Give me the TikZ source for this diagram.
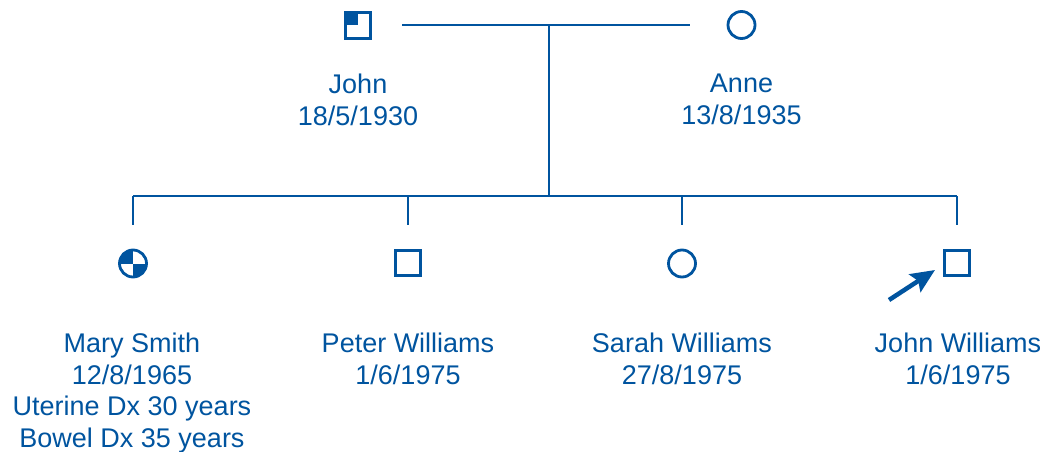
\documentclass[tikz,border=0pt]{standalone}
\usepackage{fontspec}
\setmainfont{Liberation Sans}
\usetikzlibrary{arrows.meta}
\definecolor{ped}{RGB}{0,84,159}
\begin{document}
\begin{tikzpicture}[x=1pt,y=-1pt,
  line width=2.5pt, draw=ped,
  male/.style={draw=ped, rectangle, minimum size=25.5pt, inner sep=0pt, line width=2.8pt},
  female/.style={draw=ped, circle, minimum size=27pt, inner sep=0pt, line width=2.8pt},
  lbl/.style={align=center, anchor=north, inner sep=0pt, text=ped,
    font=\fontsize{27}{31.7}\selectfont},
  conn/.style={draw=ped, line width=2.5pt},
  proband/.style={draw=ped, line width=4.5pt, -{Stealth[length=24pt,width=21pt,inset=4pt]}}]
\useasboundingbox (0,0) rectangle (1046,452);
% parents
\node[male] (john) at (358,25.5) {};
\node[female] (anne) at (741.5,25) {};
\fill[ped] (john.north west) rectangle (john.center);
% children
\node[female] (mary) at (133,263.5) {};
\node[male] (peter) at (408,263) {};
\node[female] (sarah) at (682,263.5) {};
\node[male] (jw) at (957,263) {};
\begin{scope}
  \clip (mary.center) circle[radius=13.5];
  \fill[ped] (mary.center) rectangle ++(-20,-20);
  \fill[ped] (mary.center) rectangle ++(20,20);
\end{scope}
% connectors
\coordinate (m1) at (402,25);
\coordinate (m2) at (690,25);
\coordinate (mid) at (549,25);
\coordinate (sib) at (549,196);
\coordinate (s1) at (133,196);
\coordinate (s2) at (408,196);
\coordinate (s3) at (682,196);
\coordinate (s4) at (957,196);
\coordinate (d1) at (133,225);
\coordinate (d2) at (408,225);
\coordinate (d3) at (682,225);
\coordinate (d4) at (957,225);
\draw[conn] (m1) -- (m2);
\draw[conn] (mid) -- (sib);
\draw[conn] (s1) -- (s4);
\draw[conn] (s1) -- (d1);
\draw[conn] (s2) -- (d2);
\draw[conn] (s3) -- (d3);
\draw[conn] (s4) -- (d4);
\coordinate (a1) at (889,300);
\coordinate (a2) at (935,270);
\draw[proband] (a1) -- (a2);
% labels
\node[lbl] (johnl) at (358,72.5) {John\\18/5/1930};
\node[lbl] (annel) at (741.5,72.5) {Anne\\13/8/1935};
\node[lbl] (maryl) at (132,331.5) {Mary Smith\\12/8/1965\\Uterine Dx 30 years\\Bowel Dx 35 years};
\node[lbl] (peterl) at (408,331.5) {Peter Williams\\1/6/1975};
\node[lbl] (sarahl) at (682,331.5) {Sarah Williams\\27/8/1975};
\node[lbl] (jwl) at (958,331.5) {John Williams\\1/6/1975};
\end{tikzpicture}
\end{document}
